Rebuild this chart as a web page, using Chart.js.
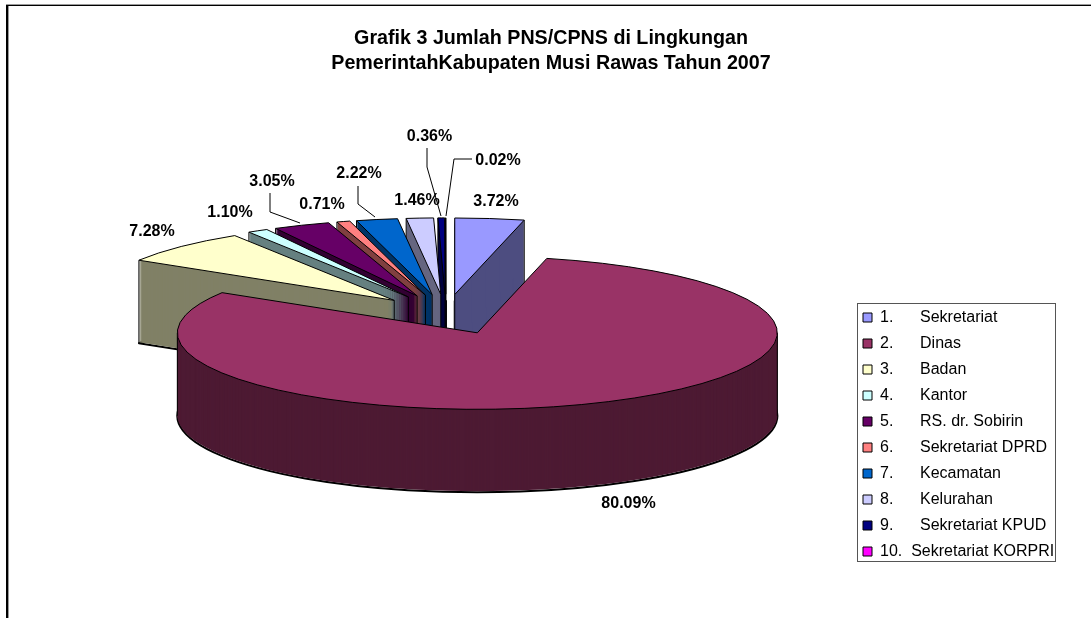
<!DOCTYPE html>
<html><head><meta charset="utf-8">
<style>html,body{margin:0;padding:0;background:#fff}canvas{display:block}</style>
<script src="https://cdn.jsdelivr.net/npm/chart.js@4/dist/chart.umd.js"></script>
</head><body>
<canvas id="c" width="1091" height="618"></canvas>
<script>
const titleLines = ['Grafik 3 Jumlah PNS/CPNS di Lingkungan', 'PemerintahKabupaten Musi Rawas Tahun 2007'];
const numbers = ['1.', '2.', '3.', '4.', '5.', '6.', '7.', '8.', '9.', '10.'];
const categories = ['Sekretariat', 'Dinas', 'Badan', 'Kantor', 'RS. dr. Sobirin', 'Sekretariat DPRD', 'Kecamatan', 'Kelurahan', 'Sekretariat KPUD', 'Sekretariat KORPRI'];
const percents = [3.72, 80.09, 7.28, 1.10, 3.05, 0.71, 2.22, 1.46, 0.36, 0.02];
const colors = ['#9999FF', '#993366', '#FFFFCC', '#CCFFFF', '#660066', '#FF8080', '#0066CC', '#CCCCFF', '#000080', '#FF00FF'];
const wallColors = ['#4D4D80', '#4D1A33', '#808066', '#668080', '#330033', '#804040', '#003366', '#666680', '#000040', '#800080'];
const explode = [75, 82, 73, 75, 75, 75, 75, 75, 75, 75];
const paintOrder = [0, 9, 8, 7, 6, 5, 4, 3, 2, 1];

const PIE = {cx: 446, cy: 313.5, radius: 300, squash: 0.255, depth: 83};
const labelPlace = [
  {x: 496, y: 202}, {x: 628.5, y: 504}, {x: 152, y: 232}, {x: 230, y: 213}, {x: 272, y: 182},
  {x: 322, y: 205}, {x: 359, y: 174}, {x: 417, y: 201}, {x: 429.5, y: 137}, {x: 498, y: 161}
];
const leaders = {
  4: [[270, 193], [270, 212], [300, 223]],
  6: [[358, 186], [358, 204], [375, 217]],
  8: [[427, 148], [427, 167], [441, 216]],
  9: [[472, 159], [454, 159], [446, 216]]
};

function project(ctx, el, i, dy) {
  const mid = (el.startAngle + el.endAngle) / 2;
  ctx.translate(PIE.cx, PIE.cy + dy);
  ctx.scale(1, PIE.squash);
  ctx.translate(Math.cos(mid) * explode[i], Math.sin(mid) * explode[i]);
  ctx.translate(-el.x, -el.y);
}
function outline(ctx, el, i, dy, width) {
  ctx.save();
  project(ctx, el, i, dy);
  ctx.beginPath();
  ctx.moveTo(el.x, el.y);
  ctx.arc(el.x, el.y, el.outerRadius, el.startAngle, el.endAngle);
  ctx.closePath();
  ctx.restore();
  ctx.lineWidth = width;
  ctx.strokeStyle = '#000';
  ctx.lineJoin = 'round';
  ctx.stroke();
}
function screenPoint(el, i, radius, angle) {
  const mid = (el.startAngle + el.endAngle) / 2;
  return {
    x: PIE.cx + Math.cos(mid) * explode[i] + Math.cos(angle) * radius,
    y: PIE.cy + (Math.sin(mid) * explode[i] + Math.sin(angle) * radius) * PIE.squash
  };
}
function vertical(ctx, p) {
  ctx.beginPath();
  ctx.moveTo(p.x, p.y);
  ctx.lineTo(p.x, p.y + PIE.depth);
  ctx.lineWidth = 1;
  ctx.strokeStyle = '#000';
  ctx.stroke();
}

const piePlugin = {
  id: 'pie3d',
  afterLayout(chart) {
    const t = chart.titleBlock;
    t.left = 11; t.right = 1091; t.top = 26; t.bottom = 76;
    const l = chart.legend;
    l.left = 853; l.right = 1060; l.top = 299.5; l.bottom = 574;
    l.width = 207; l.height = 274.5;
  },
  beforeDraw(chart) {
    const ctx = chart.ctx;
    ctx.save();
    ctx.fillStyle = '#9a9a9a';
    ctx.fillRect(6, 4, 1085, 1);
    ctx.fillRect(8, 5, 1, 613);
    ctx.fillStyle = '#000';
    ctx.fillRect(6, 5, 1085, 1);
    ctx.fillRect(6, 5, 2, 613);
    ctx.strokeStyle = '#555';
    ctx.lineWidth = 1;
    ctx.strokeRect(857.5, 303.5, 198, 258);
    ctx.restore();
  },
  beforeDatasetsDraw(chart) {
    const ctx = chart.ctx;
    const arcs = chart.getDatasetMeta(0).data;
    paintOrder.forEach(i => {
      const el = arcs[i];
      const base = el.options;
      const dark = Object.create(base, {backgroundColor: {value: wallColors[i]}});
      outline(ctx, el, i, PIE.depth, 2);
      el.options = dark;
      for (let d = PIE.depth - 1; d > 0; d--) {
        ctx.save();
        project(ctx, el, i, d);
        el.draw(ctx);
        ctx.restore();
      }
      el.options = base;
      const mid = (el.startAngle + el.endAngle) / 2;
      if (el.circumference > Math.PI) {
        vertical(ctx, screenPoint(el, i, el.outerRadius, 0));
        vertical(ctx, screenPoint(el, i, el.outerRadius, Math.PI));
      } else {
        const edge = Math.cos(mid) < 0 ? el.startAngle : el.endAngle;
        vertical(ctx, screenPoint(el, i, el.outerRadius, edge));
        vertical(ctx, screenPoint(el, i, 0, edge));
      }
      ctx.save();
      project(ctx, el, i, 0);
      el.draw(ctx);
      ctx.restore();
      outline(ctx, el, i, 0, 1);
    });

    ctx.save();
    ctx.lineWidth = 1;
    ctx.strokeStyle = '#000';
    Object.values(leaders).forEach(pts => {
      ctx.beginPath();
      pts.forEach((p, n) => n ? ctx.lineTo(p[0], p[1]) : ctx.moveTo(p[0], p[1]));
      ctx.stroke();
    });
    ctx.fillStyle = '#000';
    ctx.font = 'bold 16px "Liberation Sans", Arial, sans-serif';
    ctx.textAlign = 'center';
    ctx.textBaseline = 'middle';
    percents.forEach((v, i) => ctx.fillText(v.toFixed(2) + '%', labelPlace[i].x, labelPlace[i].y));
    ctx.restore();
    return false;
  }
};

new Chart(document.getElementById('c'), {
  type: 'pie',
  data: {
    labels: categories,
    datasets: [{
      data: percents,
      backgroundColor: colors,
      borderWidth: 0,
      radius: PIE.radius,
      offset: 0
    }]
  },
  options: {
    responsive: false,
    animation: false,
    plugins: {
      tooltip: {enabled: false},
      title: {
        display: true,
        text: titleLines,
        color: '#000',
        padding: 0,
        font: {family: '"Liberation Sans", Arial, sans-serif', size: 19.7, weight: 'bold', lineHeight: 25 / 19.7}
      },
      legend: {
        display: true,
        position: 'right',
        align: 'start',
        labels: {
          color: '#000',
          boxWidth: 9,
          boxHeight: 9,
          padding: 10,
          font: {family: '"Liberation Sans", Arial, sans-serif', size: 16},
          generateLabels: () => categories.map((name, i) => ({
            text: numbers[i] + (i === 9 ? '  ' : '\u00A0\u00A0\u00A0\u00A0\u00A0\u00A0') + name,
            fillStyle: colors[i],
            strokeStyle: '#000',
            lineWidth: 1,
            hidden: false,
            index: i
          }))
        }
      }
    }
  },
  plugins: [piePlugin]
});
</script>
</body></html>
